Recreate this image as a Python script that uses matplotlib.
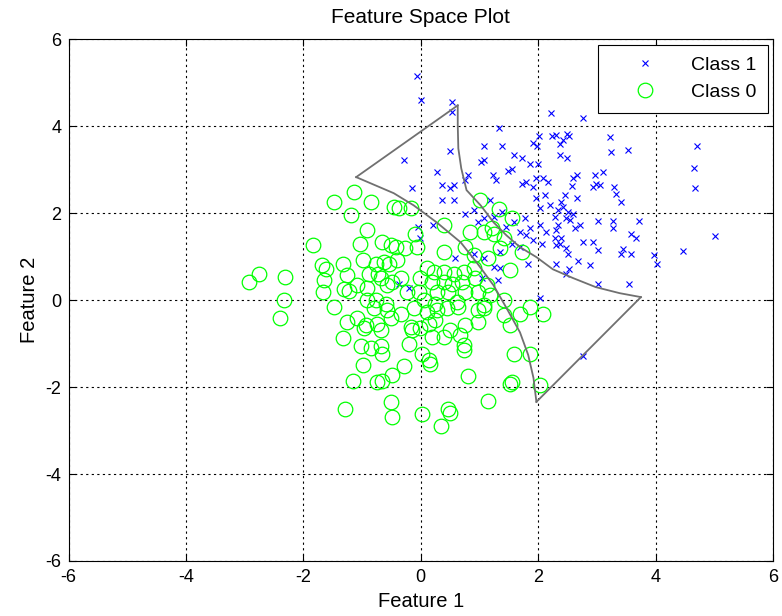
import matplotlib
matplotlib.use("Agg")
import matplotlib.pyplot as plt

plt.rcParams["font.family"] = ["Liberation Sans", "DejaVu Sans"]
plt.rcParams["axes.unicode_minus"] = False

# Class 1 samples (blue crosses)
class1_x = [-0.07, 0.01, 0.53, 0.53, 1.33, 2.21, 1.08, 1.39, 2.01, 1.92, 1.98, 2.24,
            0.50, -0.29, 1.58, 1.72, 1.86, 2.00, 1.07, 1.02, 1.55, 1.49, 1.23, 1.29,
            0.81, 0.76, 0.28, 0.36, 0.56, 0.50, -0.15, 1.97, 1.72, 1.80, 2.08, 2.17,
            1.92, 2.77, 2.31, 2.49, 2.53, 2.37, 2.42, 3.22, 2.38, 2.49, 3.24, 3.53,
            4.70, 4.66, 4.67, 2.66, 2.59, 2.96, 3.10, 2.99, 2.58, 2.93, 3.05, 3.30,
            3.33, 2.45, 2.66, 2.39, 3.41, 2.42, 2.34, 2.51, 2.59, 2.28, 2.48, 2.54,
            3.02, 3.27, 3.71, 2.34, 2.71, 2.62, 3.27, 2.31, 3.58, 3.66, 5.01, 2.28,
            2.39, 2.76, 2.93, 2.37, 2.31, 2.48, 3.02, 3.44, 3.41, 3.58, 2.51, 4.47,
            3.98, 4.03, 2.68, 2.88, 2.31, 2.53, 2.48, 3.02, 3.54, 0.36, 0.56, 1.18,
            0.90, 0.76, 0.21, -0.05, -0.01, 1.07, 1.24, 0.98, 1.38, 1.97, 2.11, 2.20,
            2.03, 1.58, 1.77, 1.46, 1.86, 2.03, 2.14, 1.69, 1.80, 1.92, 1.55, 2.06,
            1.69, 0.90, 1.35, 0.59, 1.07, 1.83, 1.24, 1.35, 1.04, 1.32, -0.37, -0.20,
            2.03, 2.76]
class1_y = [5.15, 4.60, 4.56, 4.33, 3.96, 4.31, 3.54, 3.54, 3.77, 3.62, 3.54, 3.77,
            3.43, 3.22, 3.33, 3.26, 3.14, 3.14, 3.22, 3.17, 3.01, 2.97, 2.89, 2.76,
            2.87, 2.76, 2.94, 2.64, 2.64, 2.57, 2.58, 2.80, 2.68, 2.72, 2.80, 2.72,
            2.60, 4.18, 3.79, 3.83, 3.78, 3.60, 3.68, 3.75, 3.35, 3.26, 3.40, 3.46,
            3.55, 3.04, 2.58, 2.89, 2.81, 2.87, 2.94, 2.68, 2.63, 2.60, 2.64, 2.60,
            2.45, 2.41, 2.35, 2.26, 2.25, 2.14, 2.07, 2.03, 1.99, 1.91, 1.88, 1.84,
            1.82, 1.82, 1.82, 1.72, 1.74, 1.66, 1.65, 1.61, 1.53, 1.43, 1.47, 1.43,
            1.42, 1.33, 1.33, 1.30, 1.26, 1.19, 1.15, 1.17, 1.05, 1.05, 1.07, 1.13,
            1.03, 0.83, 0.90, 0.80, 0.84, 0.71, 0.59, 0.38, 0.36, 2.30, 2.30, 2.30,
            2.07, 1.99, 1.74, 1.69, 1.42, 1.88, 1.91, 1.80, 2.03, 2.34, 2.41, 2.18,
            2.11, 1.80, 1.88, 1.69, 1.65, 1.72, 1.57, 1.57, 1.49, 1.38, 1.30, 1.30,
            1.23, 1.07, 1.11, 0.96, 0.96, 0.84, 0.77, 0.73, 0.50, 0.46, 0.38, 0.27,
            0.04, -1.28]

# Class 0 samples (green circles)
class0_x = [-1.14, -1.47, -0.84, -0.46, -1.18, -0.91, -1.84, -1.03, -0.66, -0.51,
            -1.69, -1.62, -1.32, -0.99, -0.77, -0.63, -0.54, -2.75, -2.92, -2.32,
            -1.64, -1.26, -0.88, -0.73, -0.68, -1.67, -1.31, -1.22, -1.08, -0.91,
            -0.57, -0.49, -2.33, -1.47, -0.91, -0.77, -0.60, -2.39, -1.25, -1.08,
            -0.94, -0.97, -0.80, -0.57, -0.74, -0.68, -0.51, -1.32, -1.02, -0.85,
            -0.68, -0.66, -0.99, -1.15, -0.74, -0.66, -0.49, -1.29, -0.51, -0.49,
            -0.34, -0.12, 0.11, 0.28, 0.45, 0.64, 0.98, 1.07, 1.41, 1.69,
            1.86, 2.08, -0.17, -0.15, -0.01, 0.14, 0.25, 0.19, 0.39, 0.50,
            0.67, 0.76, 0.98, 1.52, -0.20, 0.73, 0.73, 0.02, 0.14, 0.16,
            1.59, 1.86, -0.29, 0.81, 1.55, 1.52, 2.03, 1.14, 0.47, 0.50,
            0.02, 0.35, 1.01, 1.34, 1.55, -0.37, -0.17, 0.39, -0.09, 0.84,
            1.07, 1.21, 1.24, 1.41, -0.43, -0.26, -0.06, 0.39, 0.76, 0.90,
            1.15, 1.35, 1.72, 1.52, -0.40, 0.11, 0.22, 0.39, 0.56, 0.73,
            0.90, -0.01, 0.19, 0.39, 0.53, 0.70, 0.93, 1.12, -0.34, -0.23,
            -0.03, 0.28, 0.47, 0.76, 0.98, 1.18, 1.41, 0.05, 0.25, 0.62, 1.07]
class0_y = [2.49, 2.25, 2.25, 2.14, 1.95, 1.61, 1.26, 1.29, 1.34, 1.26,
            0.80, 0.71, 0.84, 0.92, 0.82, 0.88, 0.84, 0.59, 0.42, 0.53,
            0.46, 0.57, 0.61, 0.59, 0.50, 0.19, 0.25, 0.21, 0.34, 0.28,
            0.34, 0.42, 0.00, -0.15, 0.00, 0.00, -0.08, -0.40, -0.51, -0.42,
            -0.57, -0.65, -0.19, -0.23, -0.54, -0.69, -0.42, -0.88, -1.05, -1.11,
            -1.05, -1.23, -1.49, -1.86, -1.89, -1.86, -1.72, -2.51, -2.35, -2.68,
            -0.31, -0.19, -0.27, -0.23, -0.19, -0.15, -0.23, -0.19, -0.34, -0.31,
            -0.15, -0.33, -0.61, -0.69, -0.65, -0.54, -0.46, -0.84, -0.84, -0.69,
            -0.80, -0.57, -0.50, -0.57, -1.00, -1.03, -1.15, -1.23, -1.38, -1.46,
            -1.23, -1.25, -1.52, -1.75, -1.88, -1.93, -1.95, -2.31, -2.51, -2.60,
            -2.63, -2.90, 2.30, 2.09, 1.88, 2.12, 2.11, 1.72, 1.51, 1.57,
            1.57, 1.65, 1.53, 1.42, 1.23, 1.19, 1.23, 1.11, 1.23, 1.03,
            0.96, 1.19, 1.11, 0.69, 0.92, 0.73, 0.65, 0.65, 0.61, 0.65,
            0.73, 0.50, 0.42, 0.42, 0.38, 0.42, 0.50, 0.34, 0.50, 0.19,
            0.19, 0.19, 0.19, 0.19, 0.19, 0.11, 0.00, 0.00, -0.08, -0.04, -0.11]

# Decision boundary: two straight edges and two curved edges
edge_lt_x = [-1.10, 0.63]
edge_lt_y = [2.83, 4.48]
edge_br_x = [1.97, 3.75]
edge_br_y = [-2.34, 0.07]
curve_lb_x = [-1.10, -0.46, -0.12, 0.27, 0.68, 0.95, 1.24, 1.46, 1.69, 1.83, 1.92, 1.97]
curve_lb_y = [2.83, 2.46, 2.18, 1.79, 1.33, 0.87, 0.34, -0.18, -0.74, -1.26, -1.79, -2.34]
curve_tr_x = [0.63, 0.63, 0.64, 0.69, 0.78, 1.02, 1.24, 1.46, 1.69, 1.97, 2.25, 2.59, 2.98, 3.39, 3.75]
curve_tr_y = [4.48, 4.02, 3.49, 3.03, 2.53, 2.18, 1.79, 1.49, 1.22, 0.99, 0.71, 0.51, 0.30, 0.16, 0.07]

fig = plt.figure(figsize=(7.82, 6.16), dpi=100)
ax = fig.add_axes([0.0876, 0.0893, 0.9009, 0.8469])

ax.plot(class1_x, class1_y, "x", color="blue", markersize=5, markeredgewidth=0.8,
        label="Class 1")
ax.plot(class0_x, class0_y, "o", color="#00ff00", markerfacecolor="none",
        markersize=10.5, markeredgewidth=0.9, label="Class 0")

bcol = "#707070"
for bx, by in [(edge_lt_x, edge_lt_y), (edge_br_x, edge_br_y),
               (curve_lb_x, curve_lb_y), (curve_tr_x, curve_tr_y)]:
    ax.plot(bx, by, color=bcol, linewidth=1.3)

ax.set_xlim(-6, 6)
ax.set_ylim(-6, 6)
ax.set_xticks(range(-6, 7, 2))
ax.set_yticks(range(-6, 7, 2))
ax.tick_params(direction="in", top=True, right=True, labelsize=13, length=5)
ax.tick_params(axis="x", pad=6)
ax.tick_params(axis="y", pad=5)
ax.grid(True, color="black", linestyle=(0, (2, 3)), linewidth=0.8)
for s in ax.spines.values():
    s.set_linewidth(0.8)

ax.set_xlabel("Feature 1", fontsize=14.5, labelpad=4)
ax.set_ylabel("Feature 2", fontsize=14.5, labelpad=5)
ax.set_title("Feature Space Plot", fontsize=15, pad=12)

leg = ax.legend(loc="upper right", fontsize=14, fancybox=False, framealpha=1,
                edgecolor="black", borderaxespad=0.27, handletextpad=0.53,
                handlelength=3.63, labelspacing=0.5, borderpad=0.6)
leg.get_frame().set_linewidth(0.8)

fig.savefig("out.png", dpi=100)
